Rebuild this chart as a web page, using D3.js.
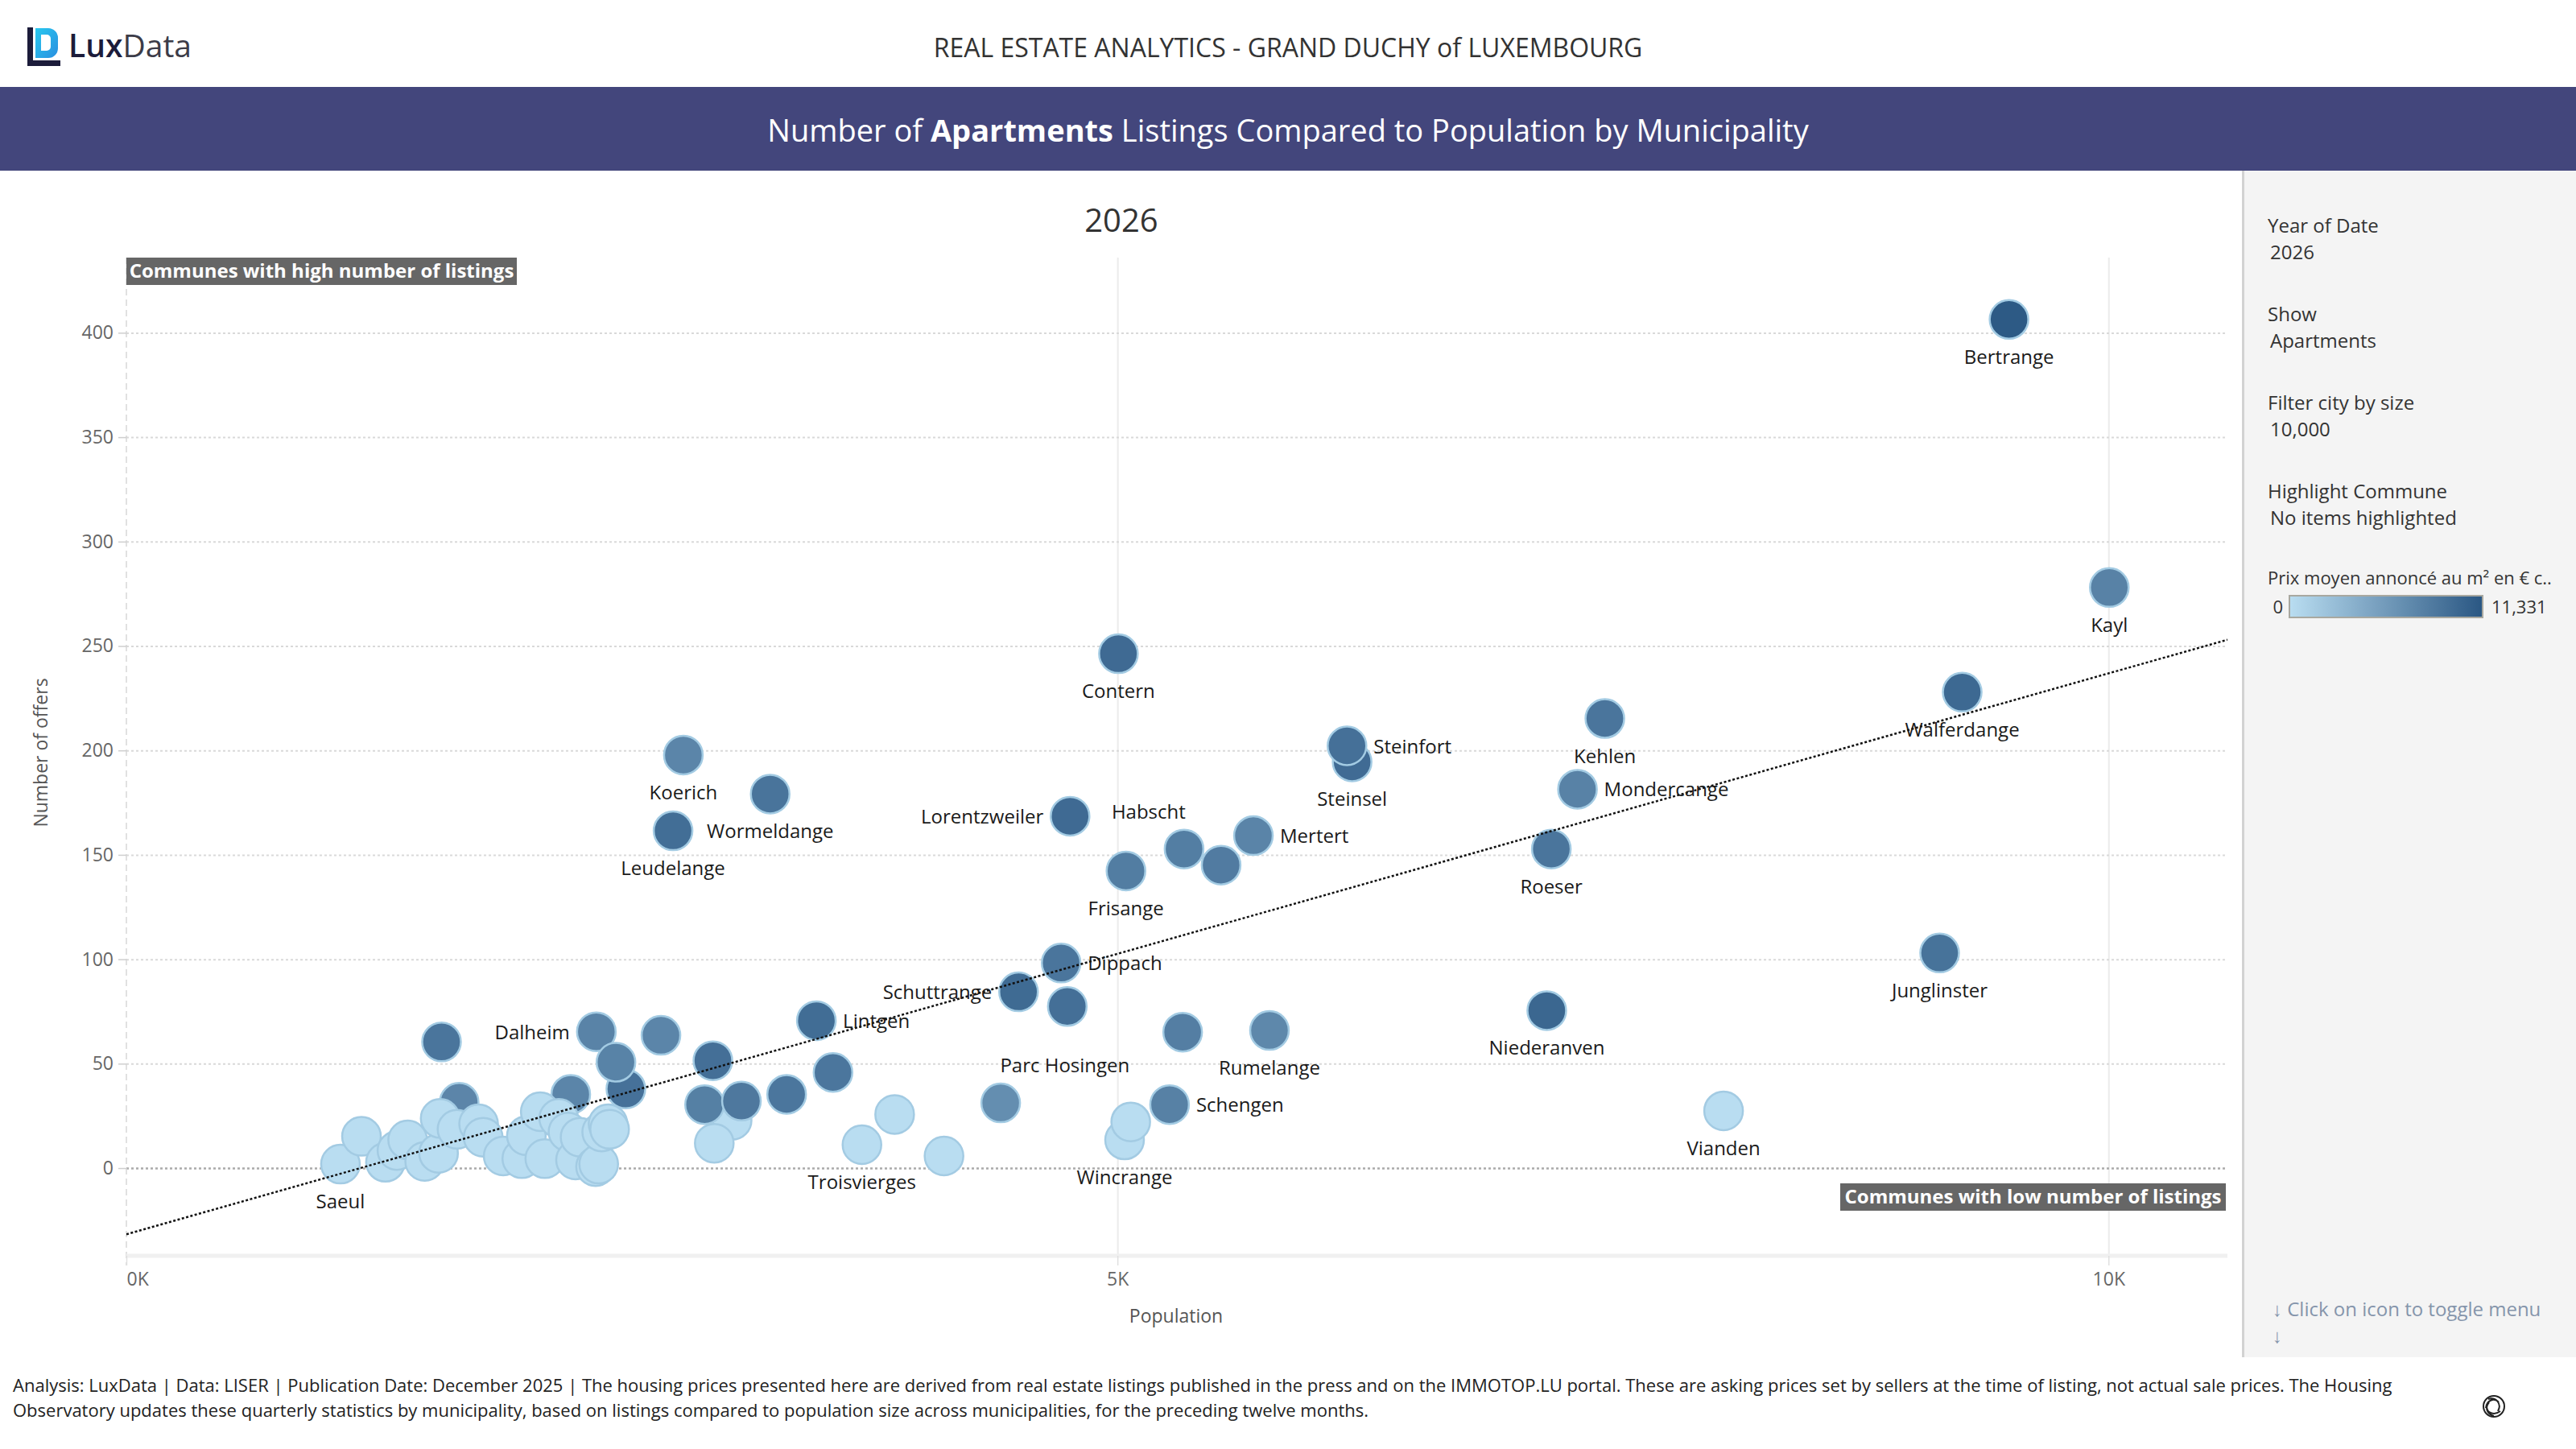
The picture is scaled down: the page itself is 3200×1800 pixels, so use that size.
<!DOCTYPE html>
<html>
<head>
<meta charset="utf-8">
<script src="https://cdn.jsdelivr.net/npm/d3@7"></script>
<style>
  html, body { margin: 0; padding: 0; background: #fff; }
  svg { display: block; font-family: 'Open Sans', sans-serif; }
</style>
</head>
<body>
<svg id="chart" width="3200" height="1800"></svg>
<script>
// Listings vs population per commune (2026), coloured by average asking price per m2
// values

// '' = commune shown but not labelled
var communes = [
  '', '', '',
  'Saeul',
  '', '', '', '', '',
  '', '', '', '', '',
  '', '', '', '', '',
  '', '', '', '', '',
  '', '', '', '', '',
  '',
  'Troisvierges', '', '', 'Wincrange', '', 'Vianden',
  '', 'Dalheim', '', '', '', '', '', '', '', 'Lintgen', '', 'Schuttrange', 'Parc Hosingen', 'Dippach', '',
  'Rumelange', 'Schengen', 'Niederanven', 'Junglinster', 'Frisange', '', 'Habscht', 'Mertert', 'Lorentzweiler',
  'Leudelange', 'Wormeldange', 'Koerich', 'Roeser', 'Mondercange', 'Steinsel', 'Steinfort', 'Kehlen',
  'Walferdange', 'Contern', 'Kayl', 'Bertrange'
]
var population = [
  1679, 2242, 2520,
  1080,
  1186, 1307, 1365, 1419, 1505,
  1575, 1583, 1668, 1777, 1800,
  1901, 1995, 2018, 2088, 2111,
  2181, 2228, 2266, 2289, 2367,
  2383, 2398, 2430, 2438, 3056,
  2966,
  3711, 3876, 4125, 5036, 5067, 8058,
  1590, 2371, 2697, 2470, 2959, 2917, 3103, 3331, 3565, 3481, 4411, 4501, 4747, 4716, 5329,
  5767, 5263, 7166, 9148, 5043, 5523, 5336, 5686, 4761,
  2758, 3248, 2810, 7189, 7321, 6184, 6158, 7459,
  9262, 5005, 10004, 9498
]
var offers = [
  31.5, 35.3, 37.9,
  1.9,
  15.2, 2.8, 8.4, 13.5, 3.2,
  7.1, 23.8, 18.6, 21.2, 14.8,
  5.8, 4.5, 15.5, 27.0, 4.5,
  23.8, 17.3, 3.9, 14.8, 0.7,
  1.9, 17.3, 21.2, 18.6, 22.9,
  11.9,
  11.2, 25.7, 5.8, 13.5, 22.1, 27.4,
  60.4, 65.3, 63.6, 50.7, 51.4, 30.4, 32.1, 35.3, 45.8, 70.6, 31.2, 84.4, 77.4, 98.2, 65.1,
  65.9, 30.4, 75.4, 103, 142.3, 145.1, 152.8, 159.2, 168.5,
  161.5, 179.1, 197.8, 152.8, 181.4, 194.5, 202.2, 215.3,
  227.9, 246.3, 278, 406.4
]
// average asking price per m2 (0 = no price)
var avgPrice = [
  7400, 7450, 9100,
  0,
  0, 0, 0, 0, 0,
  0, 0, 0, 0, 0,
  0, 0, 0, 0, 0,
  0, 0, 0, 0, 0,
  0, 0, 0, 0, 0,
  0,
  0, 0, 0, 0, 0, 0,
  8800, 7600, 7450, 7650, 9300, 7900, 8500, 8700, 8700, 9500, 6700, 9650, 9300, 8800, 8000,
  7200, 7800, 10000, 9000, 8150, 8250, 8050, 7500, 9700,
  9400, 8900, 7450, 8800, 7700, 9600, 9200, 8800,
  9800, 9700, 7700, 11100
]

var priceMax = 11331
var yTicks = [0, 50, 100, 150, 200, 250, 300, 350, 400]
var xTicks = [0, 5000, 10000]
// linear trend line of offers on population
var trendIntercept = -31.7
var trendSlope = 0.02686

var filters = [
  ['Year of Date', '2026'],
  ['Show', 'Apartments'],
  ['Filter city by size', '10,000'],
  ['Highlight Commune', 'No items highlighted']
]
var footerLines = [
  'Analysis: LuxData | Data: LISER | Publication Date: December 2025 | The housing prices presented here are derived from real estate listings published in the press and on the IMMOTOP.LU portal. These are asking prices set by sellers at the time of listing, not actual sale prices. The Housing',
  'Observatory updates these quarterly statistics by municipality, based on listings compared to population size across municipalities, for the preceding twelve months.'
]

// where each label sits relative to its circle
var below = [0, 55, 'middle']
var right = [33, 9, 'start']
var left = [-33, 9, 'end']
var labelPlace = {
  'Parc Hosingen': [-3, 82, 'middle'],
  Habscht: [-44, -38, 'middle'],
  Steinfort: right,
  Mondercange: right,
  Mertert: right,
  Dippach: right,
  Lintgen: right,
  Schengen: right,
  Lorentzweiler: left,
  Schuttrange: left,
  Dalheim: left
}

var W = 3200
var plot = { left: 157, right: 2767, top: 320, bottom: 1560 }
var radius = 24

var svg = d3.select('#chart')

// ---- header ----
var defs = svg.append('defs')
var logoGrad = defs.append('linearGradient').attr('id', 'logoGrad')
  .attr('x1', '0%').attr('y1', '0%').attr('x2', '100%').attr('y2', '100%')
logoGrad.append('stop').attr('offset', '0%').attr('stop-color', '#28c8ef')
logoGrad.append('stop').attr('offset', '100%').attr('stop-color', '#2a8fe0')

var logo = svg.append('g')
logo.append('path')
  .attr('d', 'M34,34 h7 v41 h34 v7 h-41 z')
  .attr('fill', '#1c1c3a')
logo.append('path')
  .attr('d', 'M44,35 h16 a12,12 0 0 1 12,12 v13 a12,12 0 0 1 -12,12 h-16 z M51,43 v20 h7 a5,5 0 0 0 5,-5 v-10 a5,5 0 0 0 -5,-5 z')
  .attr('fill', 'url(#logoGrad)')
  .attr('fill-rule', 'evenodd')
var logoText = logo.append('text').attr('x', 85).attr('y', 71).attr('font-size', 39)
logoText.append('tspan').attr('fill', '#1c1c3a').attr('font-weight', 600).text('Lux')
logoText.append('tspan').attr('fill', '#3c3c48').text('Data')

svg.append('text')
  .attr('x', 1600).attr('y', 71)
  .attr('text-anchor', 'middle')
  .attr('font-size', 32)
  .attr('fill', '#333')
  .text('REAL ESTATE ANALYTICS - GRAND DUCHY of LUXEMBOURG')

svg.append('rect').attr('x', 0).attr('y', 108).attr('width', W).attr('height', 104).attr('fill', '#43467c')
var bandTitle = svg.append('text')
  .attr('x', 1600).attr('y', 176)
  .attr('text-anchor', 'middle')
  .attr('font-size', 38)
  .attr('fill', '#fff')
bandTitle.append('tspan').text('Number of ')
bandTitle.append('tspan').attr('font-weight', 700).text('Apartments')
bandTitle.append('tspan').text(' Listings Compared to Population by Municipality')

// ---- side panel ----
svg.append('rect').attr('x', 2786).attr('y', 212).attr('width', W - 2786).attr('height', 1686 - 212).attr('fill', '#f4f4f4')
svg.append('rect').attr('x', 2785).attr('y', 212).attr('width', 3).attr('height', 1686 - 212).attr('fill', '#d2d2d2')

var filterG = svg.append('g').attr('font-size', 24).attr('fill', '#333')
filters.forEach(function (f, i) {
  var y0 = 289 + i * 110
  filterG.append('text').attr('x', 2817).attr('y', y0).text(f[0])
  filterG.append('text').attr('x', 2820).attr('y', y0 + 33).text(f[1])
})

// colour scale and legend
var color = d3.scaleLinear().domain([0, priceMax]).range(['#b9ddf1', '#2a5783']).interpolate(d3.interpolateRgb)

svg.append('text').attr('x', 2817).attr('y', 726).attr('font-size', 22).attr('fill', '#333')
  .text('Prix moyen annoncé au m² en € c..')
var legGrad = defs.append('linearGradient').attr('id', 'legGrad')
d3.range(0, 1.0001, 0.1).forEach(function (t) {
  legGrad.append('stop').attr('offset', (t * 100) + '%').attr('stop-color', color(t * priceMax))
})
svg.append('rect').attr('x', 2844).attr('y', 740).attr('width', 240).attr('height', 27)
  .attr('fill', 'url(#legGrad)').attr('stroke', '#a8a8a0').attr('stroke-width', 2)
svg.append('text').attr('x', 2836).attr('y', 762).attr('text-anchor', 'end').attr('font-size', 22).attr('fill', '#333').text('0')
svg.append('text').attr('x', 3095).attr('y', 762).attr('font-size', 22).attr('fill', '#333').text(d3.format(',')(priceMax))

svg.append('text').attr('x', 2823).attr('y', 1635).attr('font-size', 24).attr('fill', '#8595ab')
  .text('↓ Click on icon to toggle menu')
svg.append('text').attr('x', 2823).attr('y', 1668).attr('font-size', 24).attr('fill', '#8595ab').text('↓')

// ---- chart ----
var x = d3.scaleLinear().domain([0, 10600]).range([plot.left, plot.right])
var y = d3.scaleLinear().domain([-42, 436]).range([plot.bottom, plot.top])

svg.append('text')
  .attr('x', 1393).attr('y', 288)
  .attr('text-anchor', 'middle')
  .attr('font-size', 40)
  .attr('fill', '#333')
  .text('2026')

// vertical grid
svg.append('g')
  .attr('transform', 'translate(0,' + plot.bottom + ')')
  .call(d3.axisBottom(x).tickValues(xTicks.slice(1)).tickSize(-(plot.bottom - plot.top)).tickFormat(''))
  .call(function (g) {
    g.select('.domain').remove()
    g.selectAll('line').attr('stroke', '#ebebeb').attr('stroke-width', 2)
  })

// horizontal grid
svg.append('g')
  .attr('transform', 'translate(' + plot.left + ',0)')
  .call(d3.axisLeft(y).tickValues(yTicks).tickSize(-(plot.right - plot.left)).tickFormat(''))
  .call(function (g) {
    g.select('.domain').remove()
    g.selectAll('line')
      .attr('stroke', function (d) { return d === 0 ? '#ababab' : '#d9d9d9' })
      .attr('stroke-width', function (d) { return d === 0 ? 2.5 : 2 })
      .attr('stroke-dasharray', '3,3')
  })

// y axis line (dashed) and x axis line
svg.append('line').attr('x1', plot.left).attr('x2', plot.left).attr('y1', plot.top).attr('y2', plot.bottom + 12)
  .attr('stroke', '#d8d8d8').attr('stroke-width', 1.5).attr('stroke-dasharray', '8,5')
svg.append('line').attr('x1', plot.left).attr('x2', plot.right).attr('y1', plot.bottom).attr('y2', plot.bottom)
  .attr('stroke', '#f0f0f0').attr('stroke-width', 5)

// y axis
svg.append('g')
  .attr('transform', 'translate(' + plot.left + ',0)')
  .call(d3.axisLeft(y).tickValues(yTicks).tickSize(10).tickPadding(6))
  .call(function (g) {
    g.select('.domain').remove()
    g.selectAll('line').attr('stroke', '#cfcfcf').attr('stroke-width', 1.5)
    g.selectAll('text').attr('font-size', 23).attr('fill', '#666').attr('font-family', 'Open Sans')
  })

// x axis
svg.append('g')
  .attr('transform', 'translate(0,' + plot.bottom + ')')
  .call(d3.axisBottom(x).tickValues(xTicks).tickSize(12).tickPadding(9)
    .tickFormat(function (d) { return (d / 1000) + 'K' }))
  .call(function (g) {
    g.select('.domain').remove()
    g.selectAll('line').attr('stroke', '#e0e0e0').attr('stroke-width', 1.5)
    g.selectAll('text').attr('font-size', 23).attr('fill', '#666').attr('font-family', 'Open Sans')
      .attr('text-anchor', function (d) { return d === 0 ? 'start' : 'middle' })
  })

svg.append('text')
  .attr('transform', 'translate(59,935) rotate(-90)')
  .attr('text-anchor', 'middle')
  .attr('font-size', 23)
  .attr('fill', '#555')
  .text('Number of offers')
svg.append('text')
  .attr('x', 1461).attr('y', 1643)
  .attr('text-anchor', 'middle')
  .attr('font-size', 23)
  .attr('fill', '#555')
  .text('Population')

// annotation boxes
function noteBox (x0, y0, w, txt) {
  svg.append('rect').attr('x', x0).attr('y', y0).attr('width', w).attr('height', 34).attr('fill', '#666')
  svg.append('text').attr('x', x0 + w / 2).attr('y', y0 + 25).attr('text-anchor', 'middle')
    .attr('font-size', 24).attr('font-weight', 700).attr('fill', '#fff').text(txt)
}
noteBox(157, 320, 485, 'Communes with high number of listings')
noteBox(2286, 1470, 479, 'Communes with low number of listings')

// marks
defs.append('clipPath').attr('id', 'plotClip').append('rect')
  .attr('x', plot.left).attr('y', plot.top).attr('width', plot.right - plot.left).attr('height', plot.bottom - plot.top)

var points = population.map(function (p, i) {
  return { name: communes[i] || '', pop: p, offers: offers[i], price: avgPrice[i] }
})

var marks = svg.append('g').attr('clip-path', 'url(#plotClip)')
marks.selectAll('circle')
  .data(points)
  .join('circle')
  .attr('cx', function (d) { return x(d.pop) })
  .attr('cy', function (d) { return y(d.offers) })
  .attr('r', radius)
  .attr('fill', function (d) { return color(d.price) })
  .attr('stroke', '#a3cbe3')
  .attr('stroke-width', 2.5)

svg.append('g')
  .attr('font-size', 24)
  .attr('fill', '#1a1a1a')
  .selectAll('text')
  .data(points.filter(function (d) { return d.name }))
  .join('text')
  .each(function (d) {
    var p = labelPlace[d.name] || below
    d3.select(this)
      .attr('x', x(d.pop) + p[0])
      .attr('y', y(d.offers) + p[1])
      .attr('text-anchor', p[2])
      .text(d.name)
  })

// trend line
marks.append('line')
  .attr('x1', x(0)).attr('y1', y(trendIntercept))
  .attr('x2', x(10600)).attr('y2', y(trendIntercept + trendSlope * 10600))
  .attr('stroke', '#111')
  .attr('stroke-width', 2.5)
  .attr('stroke-dasharray', '3,2.5')

// ---- footer ----
footerLines.forEach(function (t, i) {
  svg.append('text').attr('x', 16).attr('y', 1729 + i * 31).attr('font-size', 22).attr('fill', '#222').text(t)
})
var ic = svg.append('g').attr('transform', 'translate(3098,1747)').attr('fill', 'none').attr('stroke', '#222').attr('stroke-width', 2)
ic.append('circle').attr('r', 13)
ic.append('path').attr('d', 'M-7,-9 C3,-12 10,-3 5,6 M-10,2 C-9,-8 1,-11 6,-5 M8,6 C0,12 -9,8 -9,0 M0,12 C-8,10 -12,2 -6,-5')
</script>
</body>
</html>
